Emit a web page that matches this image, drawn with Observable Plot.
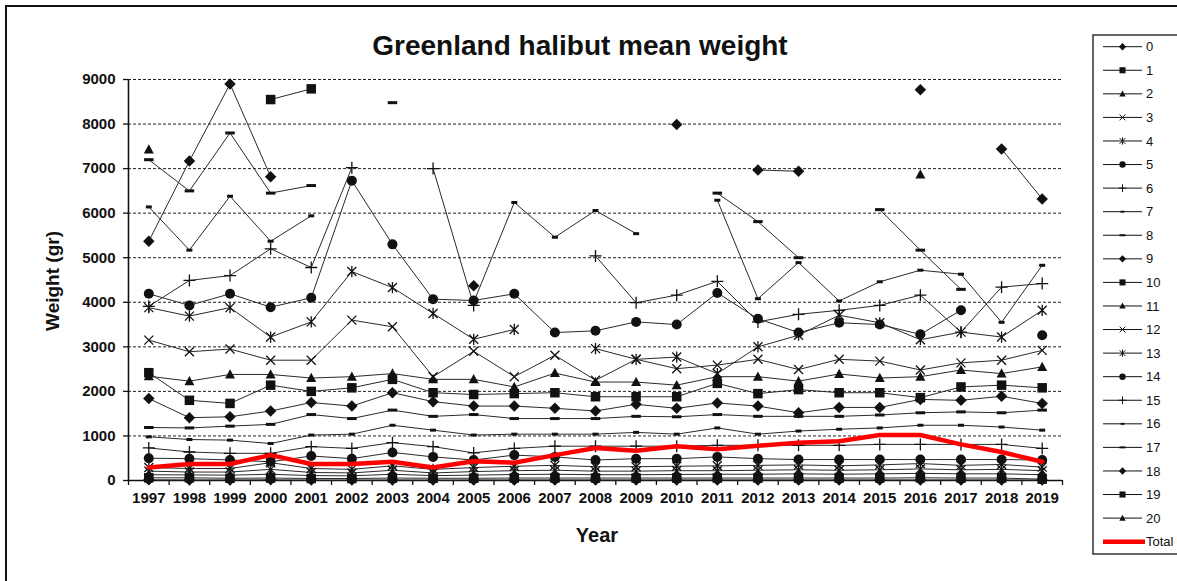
<!DOCTYPE html>
<html><head><meta charset="utf-8">
<script src="https://cdn.jsdelivr.net/npm/d3@7"></script>
<script src="https://cdn.jsdelivr.net/npm/@observablehq/plot@0.6"></script>
<style>
html,body{margin:0;padding:0;background:#fff;overflow:hidden;}
#wrap{position:relative;width:1177px;height:581px;overflow:hidden;background:#fff;}
#chart{position:absolute;left:0;top:0;}
#overlay{position:absolute;left:0;top:0;pointer-events:none;}
</style></head><body>
<div id="wrap"><div id="chart"></div><svg id="overlay" width="1177" height="581"></svg></div>
<script>
// ---------- data ----------
const years = [1997,1998,1999,2000,2001,2002,2003,2004,2005,2006,2007,2008,2009,2010,2011,2012,2013,2014,2015,2016,2017,2018,2019];
const yTicks = [0,1000,2000,3000,4000,5000,6000,7000,8000,9000];
const seriesNames = ["0","1","2","3","4","5","6","7","8","9","10","11","12","13","14","15","16","17","18","19","20"];
const age0  = [15,12,12,15,10,10,12,10,12,12,12,12,12,12,12,12,12,12,12,12,12,12,10];
const age1  = [60,60,50,55,45,45,55,50,50,55,55,55,55,55,55,55,55,55,55,60,55,55,30];
const age2  = [130,125,120,140,110,105,140,110,120,135,140,130,130,135,140,140,150,140,150,160,150,150,130];
const age3  = [210,190,190,250,180,170,230,170,200,220,230,210,210,220,220,230,240,230,240,260,240,250,220];
const age4  = [290,270,270,400,270,250,330,250,290,320,340,310,310,320,330,340,350,330,350,380,340,360,300];
const age5  = [500,490,460,420,550,490,630,530,460,570,530,460,490,490,530,490,470,470,470,470,470,470,460];
const age6  = [730,640,610,610,760,720,850,760,620,720,770,770,770,770,790,790,790,790,810,810,810,810,720];
const age7  = [980,920,906,830,1020,1040,1240,1130,1020,1040,1040,1040,1080,1040,1180,1040,1110,1150,1180,1240,1240,1200,1130];
const age8  = [1190,1180,1220,1260,1480,1390,1580,1440,1480,1390,1390,1390,1440,1430,1480,1440,1440,1440,1470,1520,1540,1520,1580];
const age9  = [1840,1410,1430,1560,1750,1670,1970,1770,1670,1670,1620,1560,1710,1620,1740,1670,1520,1640,1640,1820,1800,1890,1730];
const age10 = [2420,1800,1730,2140,2000,2080,2270,1970,1930,1950,1970,1880,1880,1880,2180,1950,2040,1970,1970,1860,2100,2140,2080];
const age11 = [2340,2230,2380,2380,2300,2330,2400,2270,2270,2100,2410,2210,2210,2140,2330,2330,2230,2390,2300,2330,2480,2400,2550];
const age12 = [3150,2890,2950,2700,2700,3600,3450,2330,2900,2330,2810,2250,2720,2510,2590,2720,2490,2720,2680,2480,2640,2700,2920];
const age13 = [3880,3690,3880,3220,3560,4690,4330,3750,3170,3390,null,2960,2720,2770,2400,3000,3260,3710,3540,3160,3330,3220,3820];
const age14 = [4190,3930,4190,3890,4100,6730,5300,4070,4040,4190,3320,3360,3560,3500,4210,3630,3320,3540,3500,3280,3820,null,3260];
const age15 = [3910,4490,4600,5200,4780,7020,null,7000,3930,null,null,5040,3990,4160,4470,3560,3730,3820,3930,4160,3330,4340,4420];
const age16 = [6140,5170,6380,5370,5940,null,null,null,4000,6240,5460,6060,5540,null,6290,4080,4890,4030,4460,4720,4630,3550,4830];
const age17 = [7200,6500,7800,6450,6620,null,8480,null,null,null,null,null,null,null,6450,5810,5000,null,6080,5170,4290,null,null];
const age18 = [5370,7170,8900,6820,null,null,null,null,4370,null,null,null,null,7990,null,6970,6940,null,null,8770,null,7440,6320];
const age19 = [null,null,null,8550,8790,null,null,null,null,null,null,null,null,null,null,null,null,null,null,null,null,null,null];
const age20 = [7430,null,null,null,null,null,null,null,null,null,null,null,null,null,null,null,null,null,null,6870,null,null,null];
const total = [290,370,370,570,370,370,420,290,430,400,570,730,670,770,700,780,850,880,1020,1020,810,640,420];

const ageSeries = [age0,age1,age2,age3,age4,age5,age6,age7,age8,age9,age10,age11,age12,age13,age14,age15,age16,age17,age18,age19,age20];

// ---------- marker symbols (Excel style) ----------
const R = s => Math.sqrt(s / Math.PI);
const symDiamond = {draw(c, s){const r=R(s)*1.15; c.moveTo(0,-r); c.lineTo(r,0); c.lineTo(0,r); c.lineTo(-r,0); c.closePath();}};
const symSquare  = {draw(c, s){const r=R(s)*0.95; c.rect(-r,-r,2*r,2*r);}};
const symTriangle= {draw(c, s){const r=R(s); c.moveTo(0,-r*1.05); c.lineTo(r,r*0.8); c.lineTo(-r,r*0.8); c.closePath();}};
const symX       = {draw(c, s){const r=R(s)*0.9; c.moveTo(-r,-r); c.lineTo(r,r); c.moveTo(-r,r); c.lineTo(r,-r);}};
const symStar    = {draw(c, s){const r=R(s)*0.9; c.moveTo(-r,-r); c.lineTo(r,r); c.moveTo(-r,r); c.lineTo(r,-r); c.moveTo(0,-r*1.25); c.lineTo(0,r*1.25);}};
const symCircle  = {draw(c, s){const r=R(s); c.moveTo(r,0); c.arc(0,0,r,0,2*Math.PI); c.closePath();}};
const symPlus    = {draw(c, s){const r=R(s)*1.2; c.moveTo(-r,0); c.lineTo(r,0); c.moveTo(0,-r); c.lineTo(0,r);}};
const symShort   = {draw(c, s){const r=R(s); c.rect(-r*0.6,-r*0.3,r*1.2,r*0.6);}};
const symLong    = {draw(c, s){const r=R(s); c.rect(-r*0.95,-r*0.3,r*1.9,r*0.6);}};
const markerCycle = [
  {sym: symDiamond, filled: true}, {sym: symSquare, filled: true}, {sym: symTriangle, filled: true},
  {sym: symX, filled: false}, {sym: symStar, filled: false}, {sym: symCircle, filled: true},
  {sym: symPlus, filled: false}, {sym: symShort, filled: true}, {sym: symLong, filled: true}
];

// ---------- tables ----------
const rows = [];
ageSeries.forEach((vals, a) => vals.forEach((w, i) => rows.push({age: seriesNames[a], a, year: years[i], w})));
const totalRows = total.map((w, i) => ({year: years[i], w}));
const bounds = [years[0] - 0.5, ...years.map(y => y + 0.5)];

const dotMarks = markerCycle.map((m, k) => {
  const data = rows.filter(d => d.a % 9 === k && d.w != null);
  return m.filled
    ? Plot.dot(data, {x: "year", y: "w", symbol: m.sym, r: 5, fill: "#111", stroke: "none"})
    : Plot.dot(data, {x: "year", y: "w", symbol: m.sym, r: 5, fill: "none", stroke: "#111", strokeWidth: 1.3});
});

const chart = Plot.plot({
  width: 1177, height: 581,
  marginLeft: 128, marginRight: 115, marginTop: 79, marginBottom: 101,
  style: {fontFamily: "'Liberation Sans', Arial, sans-serif", fontWeight: "bold", fontSize: "15px", color: "#111", background: "transparent", overflow: "visible"},
  x: {domain: [bounds[0], bounds[bounds.length - 1]]},
  y: {domain: [0, 9000]},
  marks: [
    Plot.ruleY(yTicks.filter(v => v > 0), {stroke: "#222", strokeWidth: 1, strokeDasharray: "3,2"}),
    Plot.axisY({ticks: yTicks, tickSize: 5, tickPadding: 8, tickFormat: d => String(d), label: null, strokeWidth: 1.3}),
    Plot.axisX({ticks: bounds, tickSize: 5, tickFormat: () => "", label: null, strokeWidth: 1.3}),
    Plot.axisX({ticks: years, tickSize: 0, tickPadding: 12, tickFormat: d => String(d), label: null}),
    Plot.ruleX([bounds[0]], {stroke: "#111", strokeWidth: 1.6}),
    Plot.ruleY([0], {stroke: "#111", strokeWidth: 1.6}),
    Plot.line(rows, {x: "year", y: "w", z: "age", stroke: "#2a2a2a", strokeWidth: 1}),
    ...dotMarks,
    Plot.line(totalRows, {x: "year", y: "w", stroke: "#ff0000", strokeWidth: 4.5})
  ]
});
document.getElementById("chart").append(chart);

// ---------- overlay: frame, title, axis titles, legend ----------
const ov = d3.select("#overlay");
const FF = "'Liberation Sans', Arial, sans-serif";
ov.append("rect").attr("x", 6).attr("y", 6).attr("width", 1400).attr("height", 800)
  .attr("fill", "none").attr("stroke", "#111").attr("stroke-width", 2);
ov.append("text").attr("x", 580).attr("y", 55).attr("text-anchor", "middle")
  .attr("font-family", FF).attr("font-weight", "bold").attr("font-size", 28).attr("fill", "#111")
  .text("Greenland halibut mean weight");
ov.append("text").attr("transform", "translate(59,281) rotate(-90)").attr("text-anchor", "middle")
  .attr("font-family", FF).attr("font-weight", "bold").attr("font-size", 19).attr("fill", "#111")
  .text("Weight (gr)");
ov.append("text").attr("x", 597).attr("y", 542).attr("text-anchor", "middle")
  .attr("font-family", FF).attr("font-weight", "bold").attr("font-size", 20).attr("fill", "#111")
  .text("Year");

ov.append("rect").attr("x", 1093).attr("y", 35).attr("width", 300).attr("height", 519)
  .attr("fill", "#fff").attr("stroke", "#333").attr("stroke-width", 1.5);
const legendItems = [...seriesNames.map((n, a) => ({label: n, m: markerCycle[a % 9]})), {label: "Total", m: null}];
legendItems.forEach((it, i) => {
  const cy = 46.7 + i * 23.57;
  if (it.m) {
    ov.append("line").attr("x1", 1103).attr("x2", 1142).attr("y1", cy).attr("y2", cy).attr("stroke", "#111").attr("stroke-width", 1);
    const p = d3.path();
    it.m.sym.draw(p, Math.PI * 3.2 * 3.2);
    ov.append("path").attr("transform", `translate(1122.5,${cy})`).attr("d", p.toString())
      .attr("fill", it.m.filled ? "#111" : "none").attr("stroke", it.m.filled ? "none" : "#111").attr("stroke-width", 1);
  } else {
    ov.append("line").attr("x1", 1103).attr("x2", 1145).attr("y1", cy).attr("y2", cy).attr("stroke", "#ff0000").attr("stroke-width", 4.5);
  }
  ov.append("text").attr("x", 1146).attr("y", cy + 4.6).attr("font-family", FF).attr("font-size", 13)
    .attr("fill", "#111").text(it.label);
});
</script>
</body></html>
